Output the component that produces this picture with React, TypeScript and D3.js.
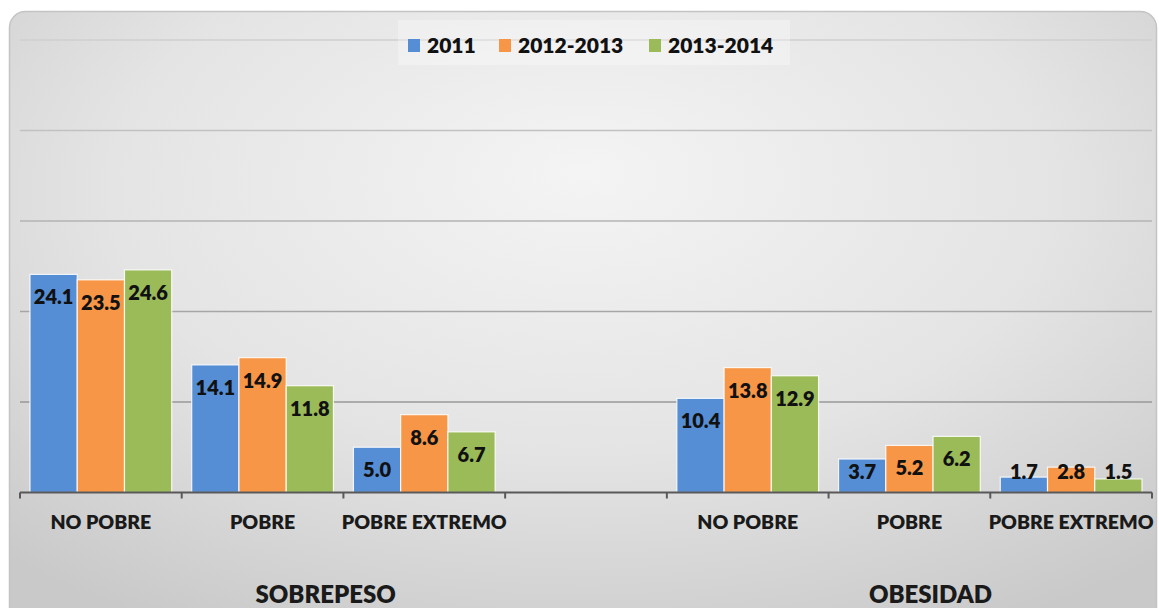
import React from "react";
import * as d3 from "d3";

// ---------- data ----------
const groups = ["SOBREPESO", "OBESIDAD"];
const subCategories = ["NO POBRE", "POBRE", "POBRE EXTREMO"];
// 7 slots on the axis: 3 sobrepeso, 1 empty, 3 obesidad
const slotLabels = ["NO POBRE", "POBRE", "POBRE EXTREMO", "", "NO POBRE", "POBRE", "POBRE EXTREMO"];
const seriesNames = ["2011", "2012-2013", "2013-2014"];
const values2011 = [24.1, 14.1, 5.0, null, 10.4, 3.7, 1.7];
const values2012 = [23.5, 14.9, 8.6, null, 13.8, 5.2, 2.8];
const values2013 = [24.6, 11.8, 6.7, null, 12.9, 6.2, 1.5];
const yTicks = [0, 10, 20, 30, 40, 50];

// ---------- layout / style ----------
const W = 1159;
const H = 608;
const colors = ["#558ED5", "#F79646", "#9BBB59"];
const FONT = "Lato, 'Open Sans', Arial, sans-serif";
const axisLeft = 20;
const axisRight = 1152;
const axisY = 492.5;
const plotTop = 40;
const groupPad = 10;
const groupTitleSlotPos = [1.89, 5.63];
const legendX = [408, 499, 649];

export default function App() {
  const allSeries = [values2011, values2012, values2013];
  const x = d3
    .scaleBand<number>()
    .domain(d3.range(slotLabels.length))
    .range([axisLeft, axisRight])
    .padding(0);
  const bw = x.bandwidth();
  const xInner = d3
    .scaleBand<string>()
    .domain(seriesNames)
    .range([groupPad, bw - groupPad])
    .padding(0);
  const y = d3.scaleLinear().domain([0, 50]).range([axisY, plotTop]);
  const gridColor = d3
    .scaleLinear<string>()
    .domain([50, 0])
    .range(["#cfcfcf", "#8a8a8a"]);

  const bars: any[] = [];
  allSeries.forEach((vals, si) => {
    vals.forEach((v, ci) => {
      if (v == null) return;
      bars.push({ si, ci, v, name: seriesNames[si] });
    });
  });

  const slotBoundaries = d3.range(slotLabels.length + 1).map((i) => axisLeft + i * bw);

  return (
    <svg
      width={W}
      height={H}
      style={{ position: "absolute", left: 0, top: 0, background: "#ffffff" }}
      fontFamily={FONT}
    >
      <defs>
        <radialGradient id="bg" cx="0.5" cy="0.3" r="0.75" fx="0.5" fy="0.25">
          <stop offset="0%" stopColor="#f4f4f4" />
          <stop offset="55%" stopColor="#e4e4e4" />
          <stop offset="100%" stopColor="#c9c9c9" />
        </radialGradient>
      </defs>
      <rect
        x={9.5}
        y={11.5}
        width={1147}
        height={640}
        rx={16}
        ry={16}
        fill="url(#bg)"
        stroke="#c4c4c4"
        strokeWidth={1.5}
      />

      {/* gridlines */}
      {yTicks
        .filter((t) => t > 0)
        .map((t) => (
          <line
            key={"g" + t}
            x1={axisLeft}
            x2={axisRight}
            y1={y(t)}
            y2={y(t)}
            stroke={gridColor(t)}
            strokeWidth={1.5}
          />
        ))}

      {/* legend background */}
      <rect x={398} y={20} width={392} height={45} fill="#ffffff" opacity={0.3} />

      {/* bars */}
      {bars.map((b) => (
        <rect
          key={`b${b.si}-${b.ci}`}
          x={(x(b.ci) as number) + (xInner(b.name) as number)}
          y={y(b.v)}
          width={xInner.bandwidth()}
          height={axisY - y(b.v)}
          fill={colors[b.si]}
          stroke="#ffffff"
          strokeOpacity={0.85}
          strokeWidth={1.2}
        />
      ))}

      {/* data labels */}
      {bars.map((b) => (
        <text
          key={`l${b.si}-${b.ci}`}
          x={(x(b.ci) as number) + (xInner(b.name) as number) + xInner.bandwidth() / 2}
          y={Math.min(y(b.v) + 30, axisY - 14)}
          textAnchor="middle"
          fontSize={20}
          fontWeight={800}
          fill="#111111"
        >
          {b.v.toFixed(1)}
        </text>
      ))}

      {/* axis */}
      <line x1={axisLeft} x2={axisRight} y1={axisY} y2={axisY} stroke="#595959" strokeWidth={2} />
      {slotBoundaries.map((bx, i) => (
        <line key={"t" + i} x1={bx} x2={bx} y1={axisY} y2={axisY + 6} stroke="#595959" strokeWidth={2} />
      ))}

      {/* category labels */}
      {slotLabels.map((lab, i) =>
        lab ? (
          <text
            key={"c" + i}
            x={(x(i) as number) + bw / 2}
            y={529}
            textAnchor="middle"
            fontSize={19.5}
            fontWeight={800}
            fill="#1a1a1a"
          >
            {lab}
          </text>
        ) : null
      )}

      {/* group titles */}
      {groups.map((g, i) => (
        <text
          key={"gt" + g}
          x={axisLeft + groupTitleSlotPos[i] * bw}
          y={603}
          textAnchor="middle"
          fontSize={24}
          fontWeight={800}
          fill="#1a1a1a"
        >
          {g}
        </text>
      ))}

      {/* legend */}
      {seriesNames.map((s, i) => (
        <g key={"lg" + s}>
          <rect x={legendX[i]} y={39} width={12} height={13} fill={colors[i]} />
          <text x={legendX[i] + 19} y={52.5} fontSize={21} fontWeight={800} fill="#111111">
            {s}
          </text>
        </g>
      ))}
    </svg>
  );
}
